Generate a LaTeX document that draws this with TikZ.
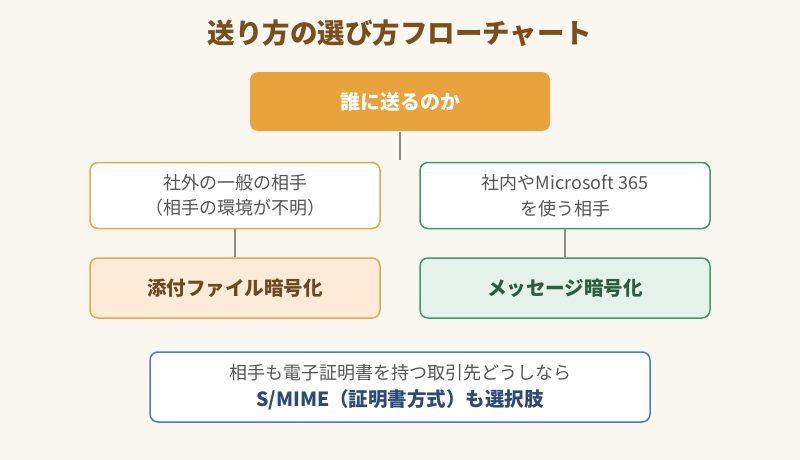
\documentclass[tikz,border=0pt]{standalone}
\usepackage{fontspec}
\setmainfont{Noto Sans CJK JP}
\usetikzlibrary{positioning}
\definecolor{bg}{HTML}{FAF7F1}
\definecolor{titlec}{HTML}{7A4F1E}
\definecolor{topfill}{HTML}{E8A33D}
\definecolor{orgline}{HTML}{E2A84C}
\definecolor{orgfill}{HTML}{FDEBD8}
\definecolor{orgtext}{HTML}{6B4A22}
\definecolor{grnline}{HTML}{3D9A6C}
\definecolor{grnfill}{HTML}{E4F2EA}
\definecolor{grntext}{HTML}{2B5E3E}
\definecolor{bluline}{HTML}{4A7CC0}
\definecolor{blutext}{HTML}{2B4A78}
\definecolor{graytext}{HTML}{555555}
\definecolor{conn}{HTML}{8A8A8A}
\tikzset{
  box/.style={rounded corners=8pt, line width=1.5pt, minimum height=#1, align=center, inner sep=0pt},
  conline/.style={conn, line width=1.6pt},
}
\begin{document}
\begin{tikzpicture}[x=1pt,y=-1pt]
\useasboundingbox[fill=bg] (0,0) rectangle (800,460);
\node[text=titlec, font=\fontsize{27.5}{32}\selectfont\bfseries] (title) at (400,33) {送り方の選び方フローチャート};
\node[box=59pt, fill=topfill, minimum width=300pt, text=white, font=\fontsize{20}{24}\selectfont\bfseries] (top) at (400,101.5) {誰に送るのか};
\node[box=66pt, draw=orgline, fill=white, minimum width=290pt, text=graytext, font=\fontsize{18}{25.5}\selectfont] (l1) at (235,195.5) {社外の一般の相手\\（相手の環境が不明）};
\node[box=66pt, draw=grnline, fill=white, minimum width=290pt, text=graytext, font=\fontsize{18}{25.5}\selectfont] (r1) at (565,195.5) {社内やMicrosoft 365\\を使う相手};
\node[box=60pt, draw=orgline, fill=orgfill, minimum width=290pt, text=orgtext, font=\fontsize{19.5}{22}\selectfont\bfseries] (l2) at (235,288) {添付ファイル暗号化};
\node[box=60pt, draw=grnline, fill=grnfill, minimum width=290pt, text=grntext, font=\fontsize{19.5}{22}\selectfont\bfseries] (r2) at (565,288) {メッセージ暗号化};
\node[box=70pt, draw=bluline, fill=white, minimum width=500pt, font=\fontsize{18}{27.5}\selectfont] (bot) at (400,387) {{\color{graytext}相手も電子証明書を持つ取引先どうしなら}\\{\color{blutext}\fontsize{19.5}{27.5}\selectfont\bfseries S/MIME（証明書方式）も選択肢}};
\coordinate (topend) at (400,160);
\draw[conline] (top.south) -- (topend);
\draw[conline] (l1.south) -- (l2.north);
\draw[conline] (r1.south) -- (r2.north);
\end{tikzpicture}
\end{document}
